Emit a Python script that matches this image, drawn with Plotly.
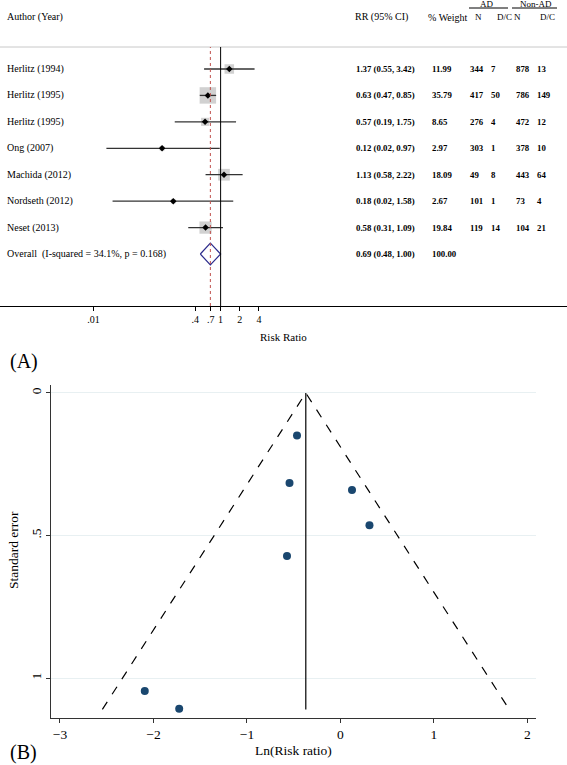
import math
import plotly.graph_objects as go

W, H = 567, 765

# ---------------- data ----------------
studies = ["Herlitz (1994)", "Herlitz (1995)", "Herlitz (1995)", "Ong (2007)",
           "Machida (2012)", "Nordseth (2012)", "Neset (2013)"]
rr = [1.37, 0.63, 0.57, 0.12, 1.13, 0.18, 0.58]
ci_lo = [0.55, 0.47, 0.19, 0.016, 0.58, 0.02, 0.31]
ci_hi = [3.42, 0.85, 1.75, 0.97, 2.22, 1.58, 1.09]
rr_text = ["1.37 (0.55, 3.42)", "0.63 (0.47, 0.85)", "0.57 (0.19, 1.75)",
           "0.12 (0.02, 0.97)", "1.13 (0.58, 2.22)", "0.18 (0.02, 1.58)",
           "0.58 (0.31, 1.09)"]
weight = [11.99, 35.79, 8.65, 2.97, 18.09, 2.67, 19.84]
weight_text = ["11.99", "35.79", "8.65", "2.97", "18.09", "2.67", "19.84"]
ad_n = [344, 417, 276, 303, 49, 101, 119]
ad_dc = [7, 50, 4, 1, 8, 1, 14]
non_n = [878, 786, 472, 378, 443, 73, 104]
non_dc = [13, 149, 12, 10, 64, 4, 21]

overall_rr = 0.69
overall_lo = 0.48
overall_hi = 1.00
overall_label = "Overall  (I-squared = 34.1%, p = 0.168)"
overall_text = "0.69 (0.48, 1.00)"
overall_weight = "100.00"

forest_ticks = [0.01, 0.4, 0.7, 1, 2, 4]
forest_ticktext = [".01", ".4", ".7", "1", "2", "4"]

# funnel plot values
ln_rr = [0.31, -0.465, -0.572, -2.093, 0.123, -1.725, -0.545]
se = [0.464, 0.149, 0.572, 1.045, 0.340, 1.108, 0.316]
pooled_ln = -0.371
se_max = 1.11
z = 1.96
funnel_xticks = [-3, -2, -1, 0, 1, 2]
funnel_yticks = [0, 0.5, 1]
funnel_yticktext = ["0", ".5", "1"]

FONT = "Liberation Serif"

def px(x):
    return x / W

def py(y):
    return 1 - y / H

fig = go.Figure()

rows = list(range(1, len(studies) + 1))
overall_row = len(studies) + 1

# ---------------- forest plot ----------------
fig.add_trace(go.Scatter(
    x=rr, y=rows, mode="markers",
    marker=dict(symbol="square", color="#bdbdbd",
                size=[math.sqrt(w) * 2.75 for w in weight], line=dict(width=0)),
    xaxis="x", yaxis="y", hoverinfo="skip", showlegend=False))
cx, cy = [], []
for lo, hi, r in zip(ci_lo, ci_hi, rows):
    cx += [lo, hi, None]
    cy += [r, r, None]
fig.add_trace(go.Scatter(x=cx, y=cy, mode="lines",
                         line=dict(color="#333333", width=1.3),
                         xaxis="x", yaxis="y", hoverinfo="skip", showlegend=False))
fig.add_trace(go.Scatter(
    x=rr, y=rows, mode="markers",
    marker=dict(symbol="diamond", color="black", size=5),
    xaxis="x", yaxis="y", hoverinfo="skip", showlegend=False))
dh = 0.41
fig.add_trace(go.Scatter(
    x=[overall_lo, overall_rr, overall_hi, overall_rr, overall_lo],
    y=[overall_row, overall_row - dh, overall_row, overall_row + dh, overall_row],
    mode="lines", fill="toself", fillcolor="white",
    line=dict(color="#2b2b8c", width=1.2),
    xaxis="x", yaxis="y", hoverinfo="skip", showlegend=False))

# ---------------- funnel plot ----------------
fig.add_trace(go.Scatter(
    x=[pooled_ln - z * se_max, pooled_ln, pooled_ln + z * se_max],
    y=[se_max, 0, se_max], mode="lines",
    line=dict(color="black", width=1.2, dash="dash"),
    xaxis="x2", yaxis="y2", hoverinfo="skip", showlegend=False))
fig.add_trace(go.Scatter(
    x=[pooled_ln, pooled_ln], y=[0, se_max], mode="lines",
    line=dict(color="black", width=1.2),
    xaxis="x2", yaxis="y2", hoverinfo="skip", showlegend=False))
fig.add_trace(go.Scatter(
    x=ln_rr, y=se, mode="markers",
    marker=dict(symbol="circle", color="#1a476f", size=8),
    xaxis="x2", yaxis="y2", hoverinfo="skip", showlegend=False))

# ---------------- shapes ----------------
shapes = [
    dict(type="line", xref="paper", yref="paper", x0=0, x1=1, y0=py(47), y1=py(47),
         line=dict(color="#c8c8c8", width=1)),
    dict(type="line", xref="paper", yref="paper", x0=px(469), x1=px(508), y0=py(8), y1=py(8),
         line=dict(color="black", width=1)),
    dict(type="line", xref="paper", yref="paper", x0=px(512), x1=px(557), y0=py(8), y1=py(8),
         line=dict(color="black", width=1)),
    dict(type="line", xref="x", yref="y domain", x0=1, x1=1, y0=0, y1=1,
         line=dict(color="black", width=1)),
    dict(type="line", xref="x", yref="y domain", x0=overall_rr, x1=overall_rr, y0=0, y1=1,
         line=dict(color="#c0504d", width=1, dash="3px,3px")),
]

# ---------------- annotations ----------------
ann = []

def txt(x, y, s, size=10, xref="paper", yref="paper", xanchor="left", **kw):
    ann.append(dict(x=x, y=y, xref=xref, yref=yref, text=s, showarrow=False,
                    xanchor=xanchor, yanchor="middle",
                    font=dict(family=FONT, size=size, color="black"), **kw))

NUM = 8.8

txt(px(5), py(17), "Author (Year)")
txt(px(353), py(17), "RR (95% CI)")
txt(px(426), py(17), "% Weight")
txt(px(473), py(17), "N", size=9)
txt(px(495), py(17), "D/C", size=9)
txt(px(512), py(17), "N", size=9)
txt(px(538), py(17), "D/C", size=9)
txt(px(487), py(4.5), "AD", size=9, xanchor="center")
txt(px(536), py(4.5), "Non-AD", size=9, xanchor="center")

def b(s):
    return "<b>" + s + "</b>"

for i, r in enumerate(rows):
    txt(px(5), r, studies[i], yref="y")
    txt(px(354), r, b(rr_text[i]), size=NUM, yref="y")
    txt(px(430), r, b(weight_text[i]), size=NUM, yref="y")
    txt(px(468), r, b(str(ad_n[i])), size=NUM, yref="y")
    txt(px(489), r, b(str(ad_dc[i])), size=NUM, yref="y")
    txt(px(514), r, b(str(non_n[i])), size=NUM, yref="y")
    txt(px(535), r, b(str(non_dc[i])), size=NUM, yref="y")
txt(px(5), overall_row, overall_label, yref="y")
txt(px(354), overall_row, b(overall_text), size=NUM, yref="y")
txt(px(430), overall_row, b(overall_weight), size=NUM, yref="y")

txt(px(283), py(337), "Risk Ratio", size=11, xanchor="center")
txt(px(8), py(361), "(A)", size=20)
txt(px(293), py(750), "Ln(Risk ratio)", size=13.5, xanchor="center")
txt(px(13), py(550), "Standard error", size=13.5, xanchor="center", textangle=-90)
txt(px(8), py(752), "(B)", size=20)

fig.update_layout(
    width=W, height=H,
    margin=dict(l=0, r=0, t=0, b=0),
    paper_bgcolor="white", plot_bgcolor="white",
    showlegend=False,
    shapes=shapes, annotations=ann,
    xaxis=dict(type="log", domain=[0, 1], anchor="y",
               range=[-3.469, 5.447],
               tickvals=forest_ticks, ticktext=forest_ticktext,
               ticks="outside", ticklen=4, tickcolor="black", tickwidth=1,
               showline=True, linecolor="black", linewidth=1,
               showgrid=False, zeroline=False,
               tickfont=dict(family=FONT, size=10, color="black")),
    yaxis=dict(domain=[py(306), py(47)], anchor="x",
               range=[9.967, 0.168], visible=False,
               showgrid=False, zeroline=False),
    xaxis2=dict(domain=[px(51), px(536)], anchor="y2",
                range=[-3.096, 2.091],
                tickvals=funnel_xticks,
                ticks="outside", ticklen=4, tickcolor="#333333", tickwidth=1,
                showline=True, linecolor="#333333", linewidth=1,
                showgrid=False, zeroline=False,
                tickfont=dict(family=FONT, size=13.5, color="black")),
    yaxis2=dict(domain=[py(717.7), py(385)], anchor="x2",
                range=[1.139, -0.028],
                tickvals=funnel_yticks, ticktext=funnel_yticktext,
                ticks="outside", ticklen=4, tickcolor="#333333", tickwidth=1,
                tickangle=-90,
                showline=True, linecolor="#333333", linewidth=1,
                showgrid=True, gridcolor="#e8f0f2", gridwidth=1,
                zeroline=False,
                tickfont=dict(family=FONT, size=13.5, color="black")),
)

fig.write_html("out.html",
               config={"displayModeBar": False},
               post_script="document.body.style.margin='0px';document.body.style.overflow='hidden';")
